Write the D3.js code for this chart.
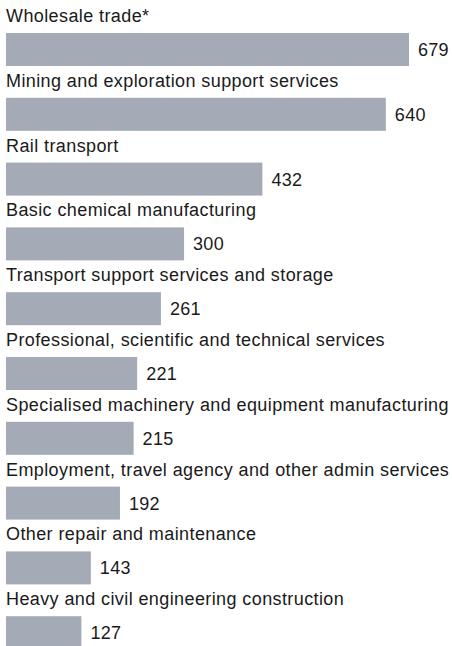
<!DOCTYPE html>
<html>
<head>
<meta charset="utf-8">
<script src="https://cdn.jsdelivr.net/npm/d3@7"></script>
<style>
  body { margin: 0; background: #fff; }
  text { font-family: "Liberation Sans", Arial, Helvetica, sans-serif; fill: #1a1a1a; }
</style>
</head>
<body>
<script>
// set up SVG
var w = 452;
var h = 646;

// data
var categories = [
  "Wholesale trade*",
  "Mining and exploration support services",
  "Rail transport",
  "Basic chemical manufacturing",
  "Transport support services and storage",
  "Professional, scientific and technical services",
  "Specialised machinery and equipment manufacturing",
  "Employment, travel agency and other admin services",
  "Other repair and maintenance",
  "Heavy and civil engineering construction"
];
var values = [679, 640, 432, 300, 261, 221, 215, 192, 143, 127];

var dataset = categories.map(function(c, i) {
  return { cat: c, val: values[i] };
});

// paddings
var pdL = 6;
var barTop = 33;   // bar offset inside a row
var barH = 33;

// scales
var scaleX = d3.scaleLinear()
               .domain([0, d3.max(values)])
               .range([pdL, 409]);

var scaleY = d3.scaleBand()
               .domain(categories)
               .range([0, 64.8 * categories.length]);

var svg = d3.select("body")
            .append("svg")
            .attr("width", w)
            .attr("height", h);

var row = svg.selectAll("g.row")
             .data(dataset)
             .enter()
             .append("g")
             .attr("class", "row")
             .attr("transform", function(d) {
                return "translate(0," + scaleY(d.cat) + ")";
             });

// category label above bar
row.append("text")
   .attr("x", pdL)
   .attr("y", 22)
   .style("font-size", "18px")
   .style("letter-spacing", "0.4px")
   .text(function(d) { return d.cat; });

// bars
row.append("rect")
   .attr("x", scaleX(0))
   .attr("y", barTop)
   .attr("width", function(d) { return scaleX(d.val) - scaleX(0); })
   .attr("height", barH)
   .attr("fill", "#a4aab6");

// value labels
row.append("text")
   .attr("x", function(d) { return scaleX(d.val) + 9; })
   .attr("y", barTop + barH / 2)
   .attr("dy", "0.36em")
   .style("font-size", "18px")
   .style("letter-spacing", "0.3px")
   .text(function(d) { return d.val; });
</script>
</body>
</html>
